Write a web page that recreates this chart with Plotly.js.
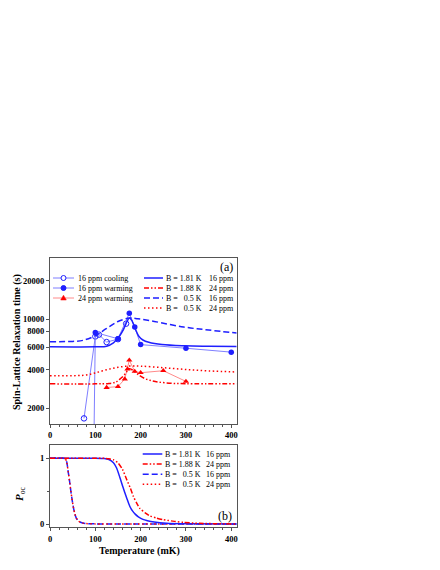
<!DOCTYPE html>
<html><head><meta charset="utf-8">
<script src="https://cdn.plot.ly/plotly-3.0.1.min.js"></script>
<style>html,body{margin:0;padding:0;background:#fff}#chart{width:440px;height:570px}</style>
</head><body><div id="chart"></div>
<script>
// ---- Panel (a) data ----
const coolT = [75, 100, 108, 125, 150, 168];
const coolV = [1660, 7300, 7550, 6600, 6950, 9200];
const warm16T = [96, 100, 150, 175, 187, 200, 300, 400];
const warm16V = [600, 7850, 7000, 11100, 8650, 6300, 5900, 5500];
const warm24T = [125, 150, 165, 171, 175, 187, 200, 250, 300];
const warm24V = [2900, 2950, 3380, 4050, 4750, 3880, 3790, 3930, 3240];

const fitA_181_T = [0, 100, 125, 140, 147, 155, 162, 170, 175, 180, 189, 196, 205, 218, 247, 298, 350, 412];
const fitA_181_V = [6050, 6060, 6120, 6500, 6890, 7500, 8250, 9580, 10180, 9800, 8250, 7320, 6850, 6570, 6300, 6160, 6120, 6100];
const fitA_188_T = [0, 100, 130, 145, 152, 162, 170, 175, 181, 190, 196, 210, 225, 240, 270, 300, 412];
const fitA_188_V = [3100, 3100, 3120, 3200, 3330, 3570, 3900, 4080, 4000, 3780, 3640, 3400, 3280, 3200, 3130, 3110, 3100];
const fitA_05_16T = [0, 50, 73, 100, 124, 150, 176, 194, 230, 295, 350, 412];
const fitA_05_16V = [6650, 6680, 6810, 7410, 8400, 9580, 10180, 10050, 9580, 8660, 8200, 7760];
const fitA_05_24T = [0, 60, 80, 100, 125, 150, 175, 200, 250, 300, 350, 412];
const fitA_05_24V = [3590, 3600, 3640, 3780, 4000, 4180, 4280, 4270, 4150, 4020, 3920, 3840];

// ---- Panel (b) data ----
const pB_181_T = [0, 100, 120, 130, 140, 147, 154, 160, 165, 170, 176, 182, 188, 195, 205, 215, 230, 257, 300, 412];
const pB_181_P = [1, 1, 0.995, 0.98, 0.93, 0.85, 0.71, 0.58, 0.48, 0.38, 0.27, 0.2, 0.15, 0.11, 0.07, 0.05, 0.03, 0.012, 0.004, 0];
const pB_188_T = [0, 100, 120, 130, 140, 150, 160, 169, 177, 184, 191, 198, 210, 220, 235, 250, 275, 295, 330, 412];
const pB_188_P = [1, 1, 0.998, 0.99, 0.975, 0.93, 0.83, 0.68, 0.55, 0.42, 0.32, 0.24, 0.17, 0.125, 0.09, 0.065, 0.04, 0.025, 0.01, 0];
const pB_05_16T = [0, 30, 34, 37, 40, 43, 46, 49, 52, 55, 58, 62, 66, 72, 80, 100, 150, 412];
const pB_05_16P = [1, 1, 0.99, 0.94, 0.8, 0.66, 0.5, 0.36, 0.24, 0.15, 0.09, 0.05, 0.03, 0.015, 0.007, 0.002, 0, 0];
const pB_05_24T = [0, 30, 34, 37, 40, 43, 46, 49, 52, 55, 58, 62, 66, 72, 80, 100, 150, 412];
const pB_05_24P = [1, 1, 0.99, 0.94, 0.8, 0.66, 0.5, 0.36, 0.24, 0.15, 0.09, 0.05, 0.03, 0.015, 0.007, 0.002, 0, 0];

const xTicks = [0, 100, 200, 300, 400];
const yTicksA = [2000, 4000, 6000, 8000, 10000, 20000];
const yTicksB = [0, 1];

const legendData = ['16 ppm cooling', '16 ppm warming', '24 ppm warming'];
const legendFitB = ['B = 1.81 K', 'B = 1.88 K', 'B =\u00a0\u00a0\u00a00.5 K', 'B =\u00a0\u00a0\u00a00.5 K'];
const legendFitC = ['16 ppm', '24 ppm', '16 ppm', '24 ppm'];

// ---- styles ----
const BLUE = '#1f1fff', LBLUE = '#7f7fff', RED = '#ff0000', LRED = '#ff8a8a';
const SERIF = 'Liberation Serif';
const fitStyles = [
  {color: BLUE, dash: 'solid', width: 1.5},
  {color: RED, dash: '5px,2px,1.5px,2px,1.5px,2px', width: 1.5},
  {color: BLUE, dash: '6px,3px', width: 1.5},
  {color: RED, dash: '1.5px,2.5px', width: 1.5}
];

const W = 440, H = 570;
const px = x => x / W, py = y => 1 - y / H;

const traces = [
  {x: coolT, y: coolV, xaxis: 'x', yaxis: 'y', mode: 'lines+markers', line: {color: LBLUE, width: 1},
   marker: {symbol: 'circle-open', size: 5.5, color: BLUE, line: {width: 1}}, showlegend: false},
  {x: warm16T, y: warm16V, xaxis: 'x', yaxis: 'y', mode: 'lines+markers', line: {color: LBLUE, width: 1},
   marker: {symbol: 'circle', size: 5.5, color: BLUE}, showlegend: false},
  {x: warm24T, y: warm24V, xaxis: 'x', yaxis: 'y', mode: 'lines+markers', line: {color: LRED, width: 1},
   marker: {symbol: 'triangle-up', size: 5.5, color: RED}, showlegend: false},
  {x: fitA_181_T, y: fitA_181_V, xaxis: 'x', yaxis: 'y', mode: 'lines', line: Object.assign({shape: 'spline'}, fitStyles[0]), showlegend: false},
  {x: fitA_188_T, y: fitA_188_V, xaxis: 'x', yaxis: 'y', mode: 'lines', line: Object.assign({shape: 'spline'}, fitStyles[1]), showlegend: false},
  {x: fitA_05_16T, y: fitA_05_16V, xaxis: 'x', yaxis: 'y', mode: 'lines', line: Object.assign({shape: 'spline'}, fitStyles[2]), showlegend: false},
  {x: fitA_05_24T, y: fitA_05_24V, xaxis: 'x', yaxis: 'y', mode: 'lines', line: Object.assign({shape: 'spline'}, fitStyles[3]), showlegend: false},
  {x: pB_05_16T, y: pB_05_16P, xaxis: 'x2', yaxis: 'y2', mode: 'lines', line: Object.assign({shape: 'spline', smoothing: 0.6}, fitStyles[2]), showlegend: false},
  {x: pB_05_24T, y: pB_05_24P, xaxis: 'x2', yaxis: 'y2', mode: 'lines', line: Object.assign({shape: 'spline', smoothing: 0.6}, fitStyles[3]), showlegend: false},
  {x: pB_181_T, y: pB_181_P, xaxis: 'x2', yaxis: 'y2', mode: 'lines', line: Object.assign({shape: 'spline', smoothing: 0.6}, fitStyles[0]), showlegend: false},
  {x: pB_188_T, y: pB_188_P, xaxis: 'x2', yaxis: 'y2', mode: 'lines', line: Object.assign({shape: 'spline', smoothing: 0.6}, fitStyles[1]), showlegend: false}
];

const tickFont = {family: SERIF, size: 8.5, color: '#000', weight: 'bold'};
const AX = '#555';
const xdom = [px(50), px(236.7)];
const domA = [py(424), py(258.3)];
const domB = [py(527.3), py(445)];
const rngA = [Math.log10(1500), Math.log10(30000)];
const rngB = [-0.05, 1.2];

const baseX = {range: [0, 412], domain: xdom, tickvals: xTicks, ticks: 'outside', ticklen: 3, tickcolor: AX,
  minor: {dtick: 20, ticks: 'outside', ticklen: 2, tickcolor: AX}, showline: true, linecolor: AX, linewidth: 1,
  mirror: true, showgrid: false, zeroline: false, tickfont: tickFont, automargin: false};

const layout = {
  width: W, height: H, margin: {l: 0, r: 0, t: 0, b: 0}, paper_bgcolor: '#fff', plot_bgcolor: '#fff',
  showlegend: false,
  xaxis: Object.assign({}, baseX, {anchor: 'y'}),
  xaxis2: Object.assign({}, baseX, {anchor: 'y2'}),
  yaxis: {type: 'log', domain: domA, range: rngA, anchor: 'x', tickvals: yTicksA, ticktext: yTicksA.map(String),
    ticks: 'outside', ticklen: 3, tickcolor: AX, showline: true, linecolor: AX, linewidth: 1, mirror: true,
    showgrid: false, zeroline: false, tickfont: tickFont, automargin: false},
  yaxis4: {type: 'log', overlaying: 'y', side: 'right', range: rngA, anchor: 'x', tickvals: yTicksA,
    ticks: 'inside', ticklen: 3, tickcolor: AX, showticklabels: false, showgrid: false, zeroline: false, showline: false},
  yaxis2: {domain: domB, range: rngB, anchor: 'x2', tickvals: yTicksB, ticktext: ['0', '1'], ticks: 'outside', ticklen: 3,
    tickcolor: AX, minor: {tickvals: [0.5], ticks: 'outside', ticklen: 2, tickcolor: AX},
    showline: true, linecolor: AX, linewidth: 1, mirror: true, showgrid: false, zeroline: false, tickfont: tickFont, automargin: false},
  yaxis3: {overlaying: 'y2', side: 'right', range: rngB, anchor: 'x2', tickvals: yTicksB, ticktext: ['0', '1'],
    ticks: 'outside', ticklen: 3, tickcolor: AX, minor: {tickvals: [0.5], ticks: 'outside', ticklen: 2, tickcolor: AX},
    showgrid: false, zeroline: false, showline: false, tickfont: tickFont, automargin: false},
  shapes: [], annotations: []
};

const ann = (text, x, y, opts) => Object.assign({text, x: px(x), y: py(y), xref: 'paper', yref: 'paper',
  showarrow: false, font: {family: SERIF, size: 8, color: '#000'}, xanchor: 'left', yanchor: 'middle'}, opts || {});

// axis titles
layout.annotations.push(ann('<b>Spin-Lattice Relaxation time (s)</b>', 17, 342, {textangle: -90, xanchor: 'center', font: {family: SERIF, size: 10, color: '#000'}}));
layout.annotations.push(ann('<b><i>P</i></b><sub>oc</sub>', 20, 494, {textangle: -90, xanchor: 'center', font: {family: SERIF, size: 11, color: '#000'}}));
layout.annotations.push(ann('<b>Temperature (mK)</b>', 139, 551, {xanchor: 'center', font: {family: SERIF, size: 10, color: '#000'}}));
layout.annotations.push(ann('(a)', 235, 267, {xanchor: 'right', font: {family: SERIF, size: 12, color: '#000'}}));
layout.annotations.push(ann('(b)', 234, 516, {xanchor: 'right', font: {family: SERIF, size: 12, color: '#000'}}));

// data legend (panel a, left)
const dataLeg = [
  {line: LBLUE, mk: 'circle-open'}, {line: LBLUE, mk: 'circle'}, {line: LRED, mk: 'tri'}
];
[278, 288, 298].forEach((yy, i) => {
  layout.shapes.push({type: 'line', xref: 'paper', yref: 'paper', x0: px(53), x1: px(74), y0: py(yy), y1: py(yy), line: {color: dataLeg[i].line, width: 1}});
  if (dataLeg[i].mk === 'tri') {
    layout.shapes.push({type: 'path', xref: 'paper', yref: 'paper', xsizemode: 'pixel', ysizemode: 'pixel', xanchor: px(63.5), yanchor: py(yy),
      path: 'M -2.8,-2 L 2.8,-2 L 0,2.8 Z', fillcolor: RED, line: {color: RED, width: 0.5}});
  } else {
    const open = dataLeg[i].mk === 'circle-open';
    layout.shapes.push({type: 'circle', xref: 'paper', yref: 'paper', xsizemode: 'pixel', ysizemode: 'pixel', xanchor: px(63.5), yanchor: py(yy),
      x0: -2.5, x1: 2.5, y0: -2.5, y1: 2.5, fillcolor: open ? '#fff' : BLUE, line: {color: BLUE, width: 1}});
  }
  layout.annotations.push(ann(legendData[i], 75.5, yy));
});

// fit legends
function fitLegend(rows, lx0, lx1, tx, ppmx) {
  rows.forEach((yy, i) => {
    layout.shapes.push({type: 'line', xref: 'paper', yref: 'paper', x0: px(lx0), x1: px(lx1), y0: py(yy), y1: py(yy),
      line: {color: fitStyles[i].color, width: 1.5, dash: fitStyles[i].dash}});
    layout.annotations.push(ann(legendFitB[i], tx, yy));
    layout.annotations.push(ann(legendFitC[i], ppmx, yy, {xanchor: 'right'}));
  });
}
fitLegend([278, 288, 298, 308], 144, 163, 164, 236);
fitLegend([454, 464, 474.3, 484.3], 142.7, 162.3, 163.3, 233.5);

Plotly.newPlot('chart', traces, layout, {displayModeBar: false, staticPlot: true});
</script></body></html>
